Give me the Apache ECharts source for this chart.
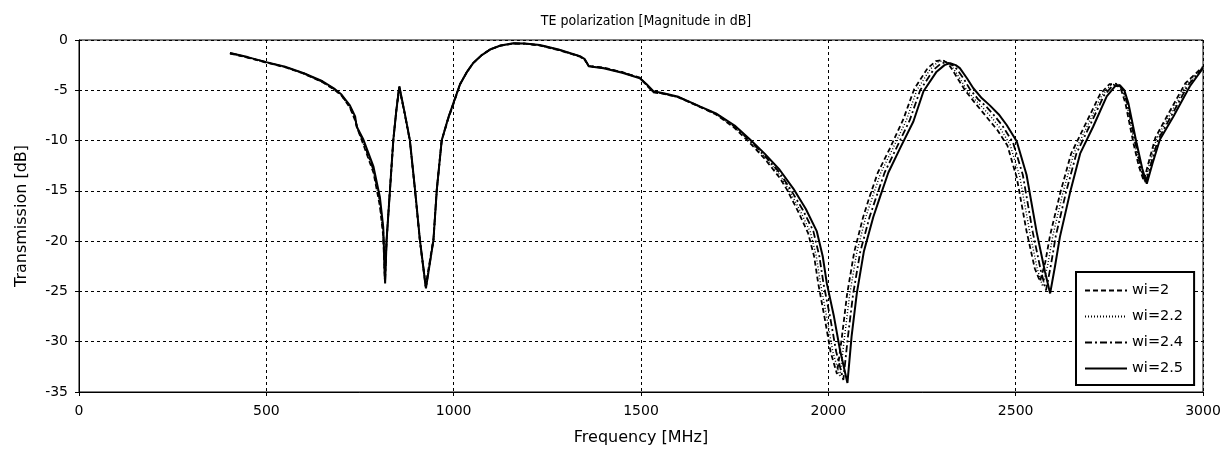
<!DOCTYPE html>
<html>
<head>
<meta charset="utf-8">
<script src="https://cdn.jsdelivr.net/npm/echarts@6/dist/echarts.min.js"></script>
<style>
  html, body { margin: 0; padding: 0; background: #fff; }
  #chart { width: 1230px; height: 453px; }
</style>
</head>
<body>
<div id="chart"></div>
<script>
// Transmission curves [frequency MHz, dB] for each width wi
const wi20 = [[403,-1.35],[450,-1.75],[500,-2.25],[550,-2.7],[600,-3.35],[650,-4.2],[680,-4.9],[700,-5.5],[723,-6.7],[737,-8.0],[745,-9.0],[759,-10.4],[786,-13.2],[803,-16.5],[812,-19.5],[816,-23.8],[821,-19.9],[830,-14.9],[839,-9.9],[847,-7.0],[854,-4.7],[870,-7.4],[883,-10.0],[897,-15.0],[910,-20.0],[925,-24.5],[946,-19.8],[955,-14.8],[968,-10.0],[985,-7.9],[1000,-6.3],[1017,-4.4],[1035,-3.2],[1052,-2.3],[1075,-1.5],[1097,-0.95],[1125,-0.55],[1159,-0.35],[1190,-0.37],[1230,-0.55],[1280,-1.0],[1337,-1.65],[1350,-2.0],[1362,-2.6],[1400,-2.75],[1450,-3.2],[1497,-3.75],[1515,-4.5],[1533,-5.2],[1560,-5.35],[1600,-5.7],[1657,-6.65],[1700,-7.4],[1750,-8.75],[1791,-10.25],[1830,-11.8],[1870,-13.7],[1890,-14.9],[1920,-17.1],[1946,-19.2],[1962,-21.5],[1973,-24.2],[1990,-27.6],[2006,-31.0],[2023,-33.2],[2036,-29.6],[2050,-25.3],[2069,-21.1],[2093,-17.6],[2110,-15.6],[2132,-13.2],[2164,-10.8],[2200,-7.9],[2229,-4.9],[2265,-2.8],[2287,-2.1],[2305,-2.0],[2320,-2.35],[2330,-2.9],[2348,-4.0],[2365,-5.0],[2388,-6.1],[2408,-7.0],[2430,-8.0],[2452,-9.0],[2478,-10.5],[2503,-13.7],[2529,-19.0],[2551,-22.7],[2565,-24.0],[2579,-22.1],[2592,-19.4],[2619,-15.2],[2648,-11.3],[2686,-8.4],[2725,-5.4],[2750,-4.4],[2768,-4.35],[2782,-5.0],[2793,-6.3],[2814,-10.2],[2829,-12.6],[2842,-14.0],[2856,-12.0],[2873,-9.7],[2908,-7.3],[2953,-4.3],[3000,-2.65]];

const wi22 = [[403,-1.32],[450,-1.73],[500,-2.22],[550,-2.7],[600,-3.33],[650,-4.18],[680,-4.88],[700,-5.48],[723,-6.65],[737,-7.9],[744,-8.9],[759,-10.3],[786,-13.0],[803,-16.2],[812,-19.2],[817,-24.0],[821,-19.9],[830,-14.9],[839,-9.9],[847,-7.0],[855,-4.7],[869,-7.3],[883,-10.0],[897,-15.0],[910,-20.0],[926,-24.6],[946,-19.9],[955,-14.9],[968,-10.0],[985,-7.85],[1000,-6.25],[1017,-4.4],[1035,-3.2],[1052,-2.3],[1075,-1.5],[1097,-0.95],[1125,-0.56],[1159,-0.35],[1190,-0.37],[1230,-0.54],[1280,-0.98],[1337,-1.63],[1350,-1.97],[1361,-2.6],[1400,-2.77],[1450,-3.21],[1497,-3.77],[1515,-4.48],[1533,-5.18],[1560,-5.34],[1600,-5.69],[1657,-6.64],[1700,-7.38],[1750,-8.65],[1791,-10.1],[1830,-11.6],[1870,-13.4],[1895,-14.9],[1925,-17.0],[1952,-19.1],[1968,-21.5],[1979,-24.2],[1996,-27.6],[2012,-31.0],[2031,-33.5],[2043,-29.6],[2057,-25.3],[2076,-21.1],[2100,-17.6],[2118,-15.6],[2140,-13.2],[2172,-10.8],[2208,-8.0],[2236,-5.0],[2272,-2.9],[2292,-2.2],[2308,-2.05],[2324,-2.4],[2335,-2.9],[2354,-4.0],[2370,-5.0],[2393,-6.0],[2414,-6.8],[2438,-7.8],[2459,-8.8],[2485,-10.4],[2511,-13.6],[2537,-19.0],[2558,-22.8],[2572,-24.5],[2586,-22.3],[2599,-19.5],[2626,-15.2],[2655,-11.3],[2692,-8.5],[2730,-5.5],[2755,-4.45],[2772,-4.4],[2785,-5.0],[2796,-6.3],[2817,-10.2],[2832,-12.7],[2845,-14.1],[2859,-12.1],[2876,-9.8],[2912,-7.4],[2957,-4.4],[3000,-2.7]];

const wi24 = [[403,-1.3],[450,-1.72],[500,-2.2],[550,-2.68],[600,-3.32],[650,-4.15],[680,-4.85],[700,-5.45],[723,-6.6],[737,-7.8],[743,-8.8],[759,-10.1],[786,-12.9],[803,-16.0],[812,-19.0],[817,-24.0],[821,-19.9],[830,-14.9],[839,-9.9],[847,-7.0],[855,-4.65],[869,-7.3],[883,-10.0],[897,-15.0],[910,-20.0],[926,-24.6],[946,-19.9],[955,-14.9],[968,-10.0],[985,-7.8],[1000,-6.2],[1017,-4.4],[1035,-3.2],[1052,-2.3],[1075,-1.5],[1097,-0.95],[1125,-0.56],[1159,-0.34],[1190,-0.36],[1230,-0.52],[1280,-0.97],[1337,-1.62],[1350,-1.95],[1361,-2.6],[1400,-2.78],[1450,-3.22],[1497,-3.78],[1515,-4.45],[1533,-5.15],[1560,-5.32],[1600,-5.68],[1657,-6.62],[1700,-7.35],[1750,-8.6],[1791,-10.0],[1830,-11.5],[1870,-13.2],[1900,-14.9],[1932,-16.9],[1960,-19.0],[1976,-21.5],[1987,-24.2],[2005,-27.6],[2021,-31.0],[2040,-33.8],[2052,-29.6],[2066,-25.3],[2085,-21.1],[2110,-17.6],[2128,-15.6],[2150,-13.2],[2181,-10.8],[2217,-8.0],[2245,-5.0],[2280,-3.0],[2300,-2.35],[2316,-2.2],[2332,-2.5],[2343,-2.9],[2362,-3.9],[2378,-4.9],[2400,-5.9],[2421,-6.6],[2445,-7.6],[2466,-8.6],[2493,-10.2],[2519,-13.4],[2545,-19.0],[2567,-22.9],[2581,-24.9],[2594,-22.4],[2607,-19.5],[2634,-15.2],[2662,-11.3],[2698,-8.5],[2736,-5.5],[2760,-4.5],[2775,-4.45],[2787,-5.0],[2798,-6.3],[2820,-10.3],[2835,-12.8],[2847,-14.2],[2862,-12.2],[2880,-9.9],[2916,-7.5],[2960,-4.5],[3000,-2.75]];

const wi25 = [[403,-1.3],[450,-1.7],[500,-2.2],[550,-2.65],[600,-3.3],[650,-4.1],[680,-4.8],[700,-5.4],[723,-6.5],[737,-7.6],[741,-8.6],[759,-9.9],[786,-12.6],[803,-15.6],[812,-18.6],[817,-24.2],[821,-19.9],[830,-14.9],[839,-9.9],[847,-7.0],[855,-4.6],[869,-7.2],[883,-9.9],[897,-14.9],[910,-19.9],[926,-24.7],[946,-19.9],[955,-14.9],[968,-10.0],[985,-7.8],[1000,-6.2],[1017,-4.4],[1035,-3.2],[1052,-2.3],[1075,-1.5],[1097,-0.95],[1125,-0.55],[1159,-0.33],[1190,-0.35],[1230,-0.5],[1280,-0.95],[1337,-1.6],[1350,-1.9],[1360,-2.6],[1400,-2.8],[1450,-3.25],[1497,-3.8],[1515,-4.4],[1533,-5.1],[1560,-5.3],[1600,-5.65],[1657,-6.6],[1700,-7.3],[1750,-8.5],[1791,-9.9],[1830,-11.3],[1870,-12.9],[1907,-14.8],[1940,-16.8],[1969,-19.0],[1985,-21.5],[1996,-24.2],[2015,-27.5],[2031,-30.8],[2051,-34.1],[2062,-29.5],[2076,-25.2],[2095,-21.0],[2120,-17.6],[2138,-15.6],[2160,-13.2],[2191,-10.8],[2227,-8.1],[2254,-5.1],[2289,-3.15],[2310,-2.5],[2325,-2.3],[2340,-2.5],[2351,-2.8],[2370,-3.8],[2387,-4.8],[2410,-5.8],[2431,-6.5],[2455,-7.4],[2476,-8.45],[2503,-10.1],[2529,-13.4],[2556,-19.1],[2578,-23.0],[2592,-25.2],[2605,-22.5],[2618,-19.6],[2645,-15.2],[2672,-11.3],[2707,-8.6],[2743,-5.6],[2765,-4.6],[2778,-4.5],[2790,-5.0],[2801,-6.3],[2823,-10.3],[2838,-12.8],[2850,-14.3],[2865,-12.3],[2885,-9.9],[2921,-7.6],[2965,-4.6],[3000,-2.8]];

const seriesNames = ['wi=2', 'wi=2.2', 'wi=2.4', 'wi=2.5'];
const freqTicks = [0, 500, 1000, 1500, 2000, 2500, 3000];
const dbTicks = [-35, -30, -25, -20, -15, -10, -5, 0];

const FONT = '"DejaVu Sans", sans-serif';
const FONT_NARROW = '"DejaVu Sans Condensed", "DejaVu Sans", sans-serif';
const chart = echarts.init(document.getElementById('chart'), null, { renderer: 'canvas' });

const gridDash = { color: '#000', width: 1, type: [3, 3] };
const axisCommon = {
  axisLine: { show: true, onZero: false, lineStyle: { color: '#000', width: 1 } },
  axisTick: { show: true, inside: false, length: 4, lineStyle: { color: '#000' } },
  axisLabel: { color: '#000', fontFamily: FONT, fontSize: 14, formatter: v => String(v) },
  splitLine: { show: true, lineStyle: gridDash },
  nameTextStyle: { color: '#000', fontFamily: FONT, fontSize: 16 }
};

const lineTypes = [[5, 3], [1, 2], [7, 3, 2, 3], 'solid'];
const lineWidths = [1.8, 1.4, 1.8, 2];
const curves = [wi20, wi22, wi24, wi25];

chart.setOption({
  animation: false,
  backgroundColor: '#fff',
  title: {
    text: 'TE polarization [Magnitude in dB]',
    left: 641, top: 9, textAlign: 'center',
    textStyle: { color: '#000', fontFamily: FONT_NARROW, fontSize: 14, fontWeight: 'normal' }
  },
  grid: {
    left: 79, right: 27, top: 40, bottom: 61,
    show: true, borderColor: '#000', borderWidth: 1, backgroundColor: 'transparent'
  },
  legend: {
    orient: 'vertical',
    left: 1076, top: 272,
    data: seriesNames,
    itemWidth: 42, itemHeight: 14, itemGap: 11,
    padding: [11, 11, 9, 8],
    backgroundColor: '#fff',
    borderColor: '#000', borderWidth: 2, borderRadius: 0,
    itemStyle: { color: 'rgba(0,0,0,0)', borderWidth: 0 },
    textStyle: { color: '#000', fontFamily: FONT, fontSize: 14.5, lineHeight: 14 }
  },
  xAxis: Object.assign({}, axisCommon, {
    type: 'value', min: freqTicks[0], max: freqTicks[freqTicks.length - 1], interval: 500,
    name: 'Frequency [MHz]', nameLocation: 'middle', nameGap: 38,
    axisLabel: Object.assign({}, axisCommon.axisLabel, { margin: 12 })
  }),
  yAxis: Object.assign({}, axisCommon, {
    type: 'value', min: dbTicks[0], max: dbTicks[dbTicks.length - 1], interval: 5,
    name: 'Transmission [dB]', nameLocation: 'middle', nameGap: 49,
    axisLabel: Object.assign({}, axisCommon.axisLabel, { margin: 11 })
  }),
  series: curves.map((d, i) => ({
    name: seriesNames[i],
    type: 'line',
    data: d,
    showSymbol: false,
    symbol: 'none',
    smooth: false,
    lineStyle: { color: '#000', width: lineWidths[i], type: lineTypes[i] },
    itemStyle: { color: '#000' }
  }))
});
</script>
</body>
</html>
